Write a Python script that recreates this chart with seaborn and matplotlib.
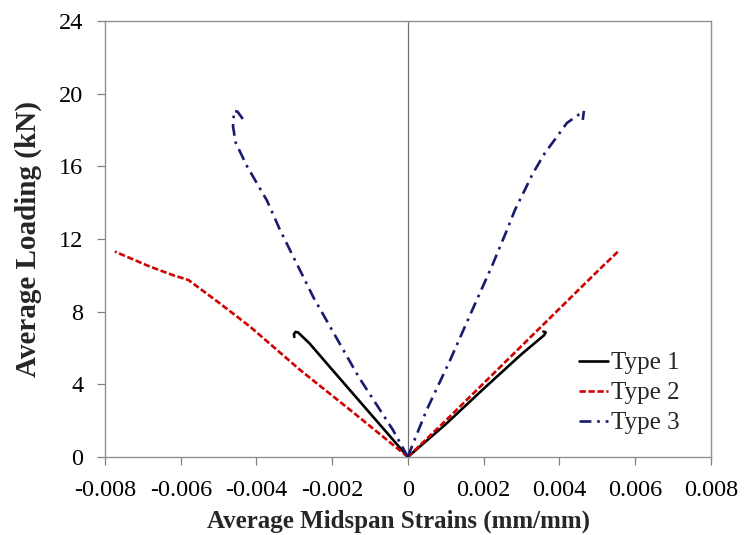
import numpy as np
import pandas as pd
import seaborn as sns
import matplotlib.pyplot as plt

# Type 1 (solid black)
t1_left_x = [0, -0.001, -0.002, -0.0026, -0.0028, -0.0029, -0.00297, -0.00301, -0.0030]
t1_left_y = [0, 2.4, 4.8, 6.25, 6.65, 6.85, 6.88, 6.75, 6.6]
t1_right_x = [0, 0.001, 0.002, 0.003, 0.0034, 0.0036, 0.00364, 0.00358]
t1_right_y = [0, 1.8, 3.75, 5.65, 6.35, 6.7, 6.85, 6.9]

# Type 2 (red dashed)
t2_left_x = [0, -0.00153, -0.00285, -0.00417, -0.0050, -0.0058, -0.0062, -0.00681, -0.00774]
t2_left_y = [0, 2.59, 4.79, 7.17, 8.5, 9.74, 10.0, 10.47, 11.3]
t2_right_x = [0, 0.001, 0.002, 0.003, 0.004, 0.005, 0.00555]
t2_right_y = [0, 2.0, 4.05, 6.1, 8.15, 10.2, 11.3]

# Type 3 (navy dash-dot)
t3_left_x = [0, -0.0004, -0.0013, -0.0025, -0.00338, -0.00372, -0.00425, -0.00455,
             -0.00462, -0.00459, -0.0045, -0.00436]
t3_left_y = [0, 1.5, 4.4, 8.8, 12.5, 14.1, 16.0, 17.3,
             18.2, 19.05, 19.0, 18.6]
t3_right_x = [0, 0.00013, 0.0005, 0.00111, 0.00164, 0.00222, 0.0026, 0.00283, 0.00309, 0.0033,
              0.00362, 0.00393, 0.0042, 0.00459, 0.00465, 0.00462]
t3_right_y = [0, 0.7, 2.6, 5.3, 7.8, 10.5, 12.4, 13.6, 14.7, 15.6,
              16.73, 17.6, 18.38, 18.95, 19.05, 18.55]

x_ticks = [-0.008, -0.006, -0.004, -0.002, 0, 0.002, 0.004, 0.006, 0.008]
x_tick_labels = ["-0.008", "-0.006", "-0.004", "-0.002", "0", "0.002", "0.004", "0.006", "0.008"]
y_ticks = [0, 4, 8, 12, 16, 20, 24]

series = [
    ("Type 1", "left", t1_left_x, t1_left_y),
    ("Type 1", "right", t1_right_x, t1_right_y),
    ("Type 2", "left", t2_left_x, t2_left_y),
    ("Type 2", "right", t2_right_x, t2_right_y),
    ("Type 3", "left", t3_left_x, t3_left_y),
    ("Type 3", "right", t3_right_x, t3_right_y),
]
rows = []
for name, branch, xs, ys in series:
    for x, y in zip(xs, ys):
        rows.append({"Type": name, "branch": name + branch, "strain": x, "load": y})
df = pd.DataFrame(rows)

sns.set_style("white")
plt.rcParams['font.family'] = ['Liberation Serif', 'DejaVu Serif']

fig = plt.figure(figsize=(7.45, 5.35), dpi=100)
ax = fig.add_axes([0.141, 0.146, 0.813, 0.815])

# zero line
ax.axvline(0, color="#707070", lw=0.9, zorder=1)

palette = {"Type 1": "black", "Type 2": "#d00000", "Type 3": "#1a1a6e"}
dashes = {"Type 1": "", "Type 2": (2.4, 1.0), "Type 3": (4.5, 2.2, 1.0, 2.2)}
sns.lineplot(data=df, x="strain", y="load", hue="Type", style="Type", units="branch",
             estimator=None, sort=False, palette=palette, dashes=dashes, lw=1.9, ax=ax, zorder=3)

ax.set_xlim(-0.008, 0.008)
ax.set_ylim(0, 24)
ax.set_xticks(x_ticks)
ax.set_xticklabels(x_tick_labels)
ax.set_yticks(y_ticks)
ax.tick_params(axis="both", labelsize=17.5, direction="out", length=5.5, width=0.9,
               colors="#808080", labelcolor="black", bottom=True, left=True)
ax.tick_params(axis="x", pad=11)
ax.tick_params(axis="y", pad=10)
for s in ax.spines.values():
    s.set_color("#909090")
    s.set_linewidth(1.0)

ax.set_xlabel("Average Midspan Strains (mm/mm)", fontsize=18, fontweight="bold")
ax.xaxis.set_label_coords(0.485, -0.121)
ax.set_ylabel("Average Loading (kN)", fontsize=21, fontweight="bold", labelpad=12)

leg = ax.legend(loc="lower right", bbox_to_anchor=(0.985, 0.0), frameon=False, fontsize=18,
                handlelength=1.15, handletextpad=0.12, labelspacing=0.3)

fig.savefig("out.png", dpi=100)
